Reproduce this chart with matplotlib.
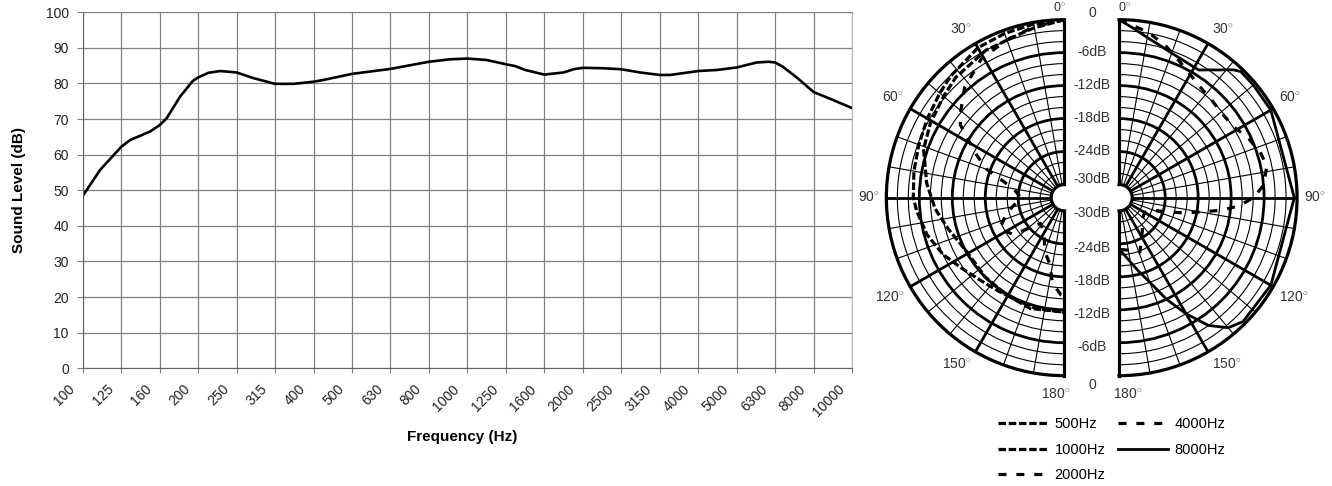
import matplotlib
matplotlib.use("Agg")
import matplotlib.pyplot as plt
import numpy as np
from matplotlib.ticker import FixedLocator
from matplotlib.transforms import ScaledTranslation

plt.rcParams['font.family'] = ['Liberation Sans', 'DejaVu Sans']
plt.rcParams['mathtext.fontset'] = 'custom'
plt.rcParams['mathtext.rm'] = 'Liberation Sans'

# frequency response, x = position along the 1/3 octave band axis
bands = ['100', '125', '160', '200', '250', '315', '400', '500', '630', '800',
         '1000', '1250', '1600', '2000', '2500', '3150', '4000', '5000', '6300',
         '8000', '10000']
resp_pos = [0.0, 0.45, 1.0, 1.23, 1.75, 2.0, 2.18, 2.53, 2.86, 3.0,
            3.27, 3.57, 4.0, 4.44, 5.0, 5.48, 6.0, 6.26, 7.0, 8.0,
            9.0, 9.55, 10.0, 10.5, 11.0, 11.24, 11.5, 12.0, 12.5, 12.76,
            13.0, 13.5, 14.0, 14.49, 15.0, 15.27, 16.0, 16.49, 17.0, 17.52,
            17.83, 18.0, 18.2, 18.56, 19.0, 19.43, 20.0]
resp_db = [48.4, 55.7, 62.2, 64.1, 66.5, 68.3, 70.2, 76.3, 80.7, 81.7,
           83.0, 83.5, 83.1, 81.5, 79.9, 79.9, 80.5, 81.0, 82.7, 84.1,
           86.1, 86.8, 87.0, 86.6, 85.4, 84.9, 83.8, 82.5, 83.1, 84.0,
           84.4, 84.3, 84.0, 83.1, 82.4, 82.4, 83.5, 83.8, 84.5, 85.9,
           86.1, 85.9, 84.7, 81.7, 77.6, 75.7, 73.1]

# polar patterns (angle in degrees, level in dB)
a500 = [0, 10, 20, 30, 43, 50, 60, 70, 80, 90, 95, 105, 115, 125, 135, 145, 155, 165, 180]
d500 = [0, -0.3, -0.6, -0.9, -2.1, -2.8, -3.6, -4.2, -4.6, -4.9, -5.4, -6.5, -8.0, -9.8,
        -11.0, -11.6, -11.8, -11.6, -11.5]
a1000 = [0, 10, 15, 28, 42, 50, 61, 71, 84, 95, 105, 119, 135, 149, 163, 180]
d1000 = [0, -1.0, -1.5, -2.0, -2.9, -3.7, -4.5, -5.3, -7.2, -8.8, -10.5, -12.1, -12.0,
         -11.8, -11.3, -11.6]
a2000 = [0, 10, 20, 31, 42, 50, 55, 64, 70, 80, 90, 105, 116, 126, 137, 150, 160, 168,
         172, 178, 180]
d2000 = [0, -0.8, -1.8, -3.0, -5.3, -7.8, -9.3, -14.6, -17.4, -23.0, -24.5, -21.5, -19.3,
         -21.0, -26.0, -25.0, -22.0, -19.9, -16.7, -14.7, -14.5]
a4000 = [0, 10, 17.5, 25, 37, 43.5, 50.6, 58, 65.4, 72, 78, 85, 90, 94, 97, 99.4, 103,
         106, 112, 120, 134, 145, 159, 170, 180]
d4000 = [0, -1.8, -3.6, -5.5, -7.5, -7.9, -8.2, -7.9, -6.5, -5.4, -4.9, -6.0, -7.9, -10.6,
         -13.6, -16.8, -20.0, -23.0, -26.4, -27.0, -26.6, -25.0, -21.8, -22.7, -23.0]
a8000 = [0, 5, 10, 15, 20, 25, 30, 32, 35, 38, 40, 42, 44, 50, 60, 90, 120, 135, 140,
         145, 150, 155, 160, 165, 170, 175, 180]
d8000 = [0, -1.5, -2.8, -3.7, -4.4, -4.8, -5.0, -5.0, -4.0, -2.9, -2.0, -1.1, -0.5, -0.5,
         -0.5, -0.5, -0.5, -0.5, -1.5, -4.0, -8.0, -12.0, -16.0, -18.5, -20.5, -22.0, -23.0]

angle_ticks = [0, 30, 60, 90, 120, 150, 180]
ring_labels = ['0', '-6dB', '-12dB', '-18dB', '-24dB', '-30dB']
ring_db = [0, -6, -12, -18, -24, -30]

fig = plt.figure(figsize=(13.32, 4.86), dpi=100)

# ---- frequency response ----
ax = fig.add_axes([0.0621, 0.2422, 0.5776, 0.7325])
ax.plot(resp_pos, resp_db, color='black', lw=1.9, solid_joinstyle='round')
ax.set_xlim(0, 20)
ax.set_ylim(0, 100)
ax.set_xticks(range(len(bands)))
ax.set_xticklabels(bands, rotation=45, ha='right', va='center', rotation_mode='anchor')
ax.set_yticks(range(0, 101, 10))
ax.grid(color='#808080', lw=0.9)
ax.tick_params(axis='y', labelsize=10, colors='#222222', length=4, color='#808080', pad=6)
ax.tick_params(axis='x', labelsize=10, colors='#222222', length=3.5, color='#808080', pad=10)
for lab in ax.get_xticklabels():
    lab.set_transform(lab.get_transform() + ScaledTranslation(-0.1, 0, fig.dpi_scale_trans))
for s in ['left', 'bottom']:
    ax.spines[s].set_color('#606060')
ax.spines['top'].set_color('#808080')
ax.spines['right'].set_color('#b8b8b8')
ax.set_ylabel('Sound Level (dB)', fontsize=11, fontweight='bold')
ax.yaxis.set_label_coords(-0.074, 0.5)
ax.set_xlabel('Frequency (Hz)', fontsize=11, fontweight='bold')
ax.xaxis.set_label_coords(0.493, -0.172)


# ---- polar halves ----
# a half wedge fills only the middle half of its (square) polar axes box
def half_polar(rect, direction):
    pa = fig.add_axes(rect, projection='polar')
    pa.set_theta_zero_location('N')
    pa.set_theta_direction(direction)
    pa.set_thetamin(0)
    pa.set_thetamax(180)
    pa.set_ylim(-30, 0)
    pa.set_rorigin(-32.4)
    pa.set_yticks([-24, -18, -12, -6])
    pa.set_yticklabels([])
    pa.yaxis.set_minor_locator(FixedLocator([v for v in range(-28, 0, 2) if v % 6]))
    pa.set_xticks(np.deg2rad(angle_ticks))
    pa.set_xticklabels([])
    pa.xaxis.set_minor_locator(FixedLocator(np.deg2rad([a for a in range(10, 180, 10) if a % 30])))
    pa.grid(which='major', color='black', lw=2.0)
    pa.grid(which='minor', color='black', lw=0.8)
    pa.tick_params(which='both', length=0)
    for sp in pa.spines.values():
        sp.set_linewidth(2.3)

    # angle labels, pushed outward from the rim
    side = -direction
    for a in angle_ticks:
        t = np.deg2rad(a)
        fs = 10
        if a == 0:
            dx, dy, ha, va, fs = side * 5, 8.5, 'center', 'baseline', 9
        elif a == 180:
            dx, dy, ha, va = side * 8.5, -12, 'center', 'top'
        else:
            dx, dy = 7 * side * np.sin(t), 7 * np.cos(t)
            ha = 'left' if side > 0 else 'right'
            va = 'bottom' if a < 90 else ('center' if a == 90 else 'top')
        pa.annotate(f'{a}$^{{\\circ}}$', xy=(t, 0), xytext=(dx * 0.72, dy * 0.72),
                    textcoords='offset points', ha=ha, va=va, fontsize=fs,
                    color='#333333', annotation_clip=False)
    return pa


paL = half_polar([0.5986, 0.2270, 0.2673, 0.7325], 1)
paR = half_polar([0.7733, 0.2270, 0.2673, 0.7325], -1)

fine = (2.35, 0.85)
coarse = (2.5, 3.1)
l500, = paL.plot(np.deg2rad(a500), d500, color='black', lw=2.3, dashes=fine, label='500Hz')
l1000, = paL.plot(np.deg2rad(a1000), d1000, color='black', lw=2.3, dashes=fine, label='1000Hz')
l2000, = paL.plot(np.deg2rad(a2000), d2000, color='black', lw=2.3, dashes=coarse, label='2000Hz')
l4000, = paR.plot(np.deg2rad(a4000), d4000, color='black', lw=2.3, dashes=coarse, label='4000Hz')
l8000, = paR.plot(np.deg2rad(a8000), d8000, color='black', lw=2.0, label='8000Hz')

# ring labels between the two halves
for lab, v in zip(ring_labels, ring_db):
    if v == 0:
        up, down = 7, -9
    elif v == -30:
        up, down = 5, -2
    else:
        up, down = 0.5, -4
    paL.annotate(lab, xy=(0, v), xytext=(20, up * 0.72), textcoords='offset points',
                 ha='center', va='center', fontsize=10, color='#333333', annotation_clip=False)
    paL.annotate(lab, xy=(np.pi, v), xytext=(20, down * 0.72), textcoords='offset points',
                 ha='center', va='center', fontsize=10, color='#333333', annotation_clip=False)

fig.legend(handles=[l500, l1000, l2000, l4000, l8000], ncol=2, loc='upper left',
           bbox_to_anchor=(998 / 1332, 1 - 417 / 486), frameon=False, handlelength=3.4,
           handletextpad=0.48, columnspacing=0.87, labelspacing=0.8, borderpad=0,
           borderaxespad=0, fontsize=10.5)

fig.savefig('out.png', dpi=100)
